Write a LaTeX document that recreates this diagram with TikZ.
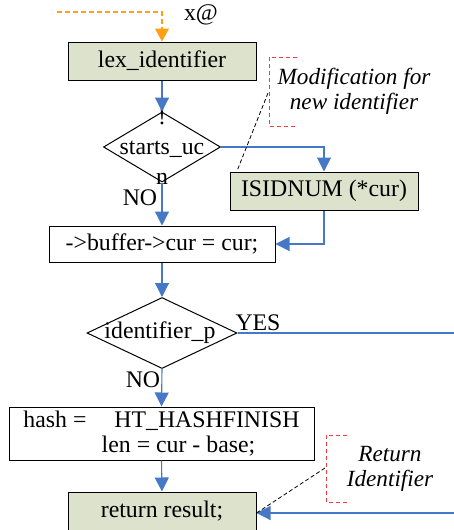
\documentclass[tikz,border=0pt]{standalone}
\usepackage{fontspec}
\setmainfont{Liberation Serif}
\usetikzlibrary{shapes.geometric,arrows.meta}
\definecolor{boxgreen}{RGB}{221,226,204}
\definecolor{flowblue}{RGB}{70,120,200}
\definecolor{inorange}{RGB}{255,160,20}
\definecolor{notered}{RGB}{240,60,60}
\tikzset{
  txt/.style={font=\fontsize{23.8}{30}\selectfont, inner sep=0pt},
  note/.style={font=\fontsize{23.2}{25}\selectfont\itshape, inner sep=0pt, align=center},
  procbox/.style={draw=black, line width=1pt, rectangle, inner sep=0pt,
    font=\fontsize{23.8}{27}\selectfont, align=center},
  greenbox/.style={procbox, fill=boxgreen},
  decision/.style={draw=black, line width=1pt, diamond, inner sep=0pt},
  flow/.style={draw=flowblue, line width=1.1pt, -{Triangle[length=14pt,width=14pt]}},
  flowline/.style={draw=flowblue, line width=1.1pt},
  entry/.style={draw=inorange, line width=1.1pt, dash pattern=on 5pt off 3pt,
    -{Triangle[length=13pt,width=14pt]}},
  bracket/.style={draw=notered, line width=1pt, dash pattern=on 4pt off 3pt},
  pointer/.style={draw=black, line width=0.8pt, dash pattern=on 4pt off 2.5pt}
}
\begin{document}
\begin{tikzpicture}[x=1pt,y=-1pt]
\useasboundingbox (0,0) rectangle (454,530);

% main flow
\node[greenbox, minimum width=188pt, minimum height=38pt] (lex) at (162,61) {lex\_identifier};
\node[decision, minimum width=117pt, minimum height=70pt] (d1) at (162,147) {};
\node[txt, align=center] (d1t) at (162,147) {!\\starts\_uc\\n};
\node[greenbox, minimum width=188pt, minimum height=38pt] (isid) at (324,191) {ISIDNUM (*cur)};
\node[procbox, minimum width=226pt, minimum height=36pt] (buf) at (162,244) {->buffer->cur = cur;};
\node[decision, minimum width=150pt, minimum height=71pt] (d2) at (162,333) {};
\node[txt] (d2t) at (160,333) {identifier\_p};
\node[procbox, minimum width=305pt, minimum height=53pt] (hash) at (161.5,433.5)
  {hash = \hspace{22pt}HT\_HASHFINISH\\[-2pt]\hspace*{34pt}len = cur - base;};
\node[greenbox, minimum width=188pt, minimum height=40pt] (ret) at (162,512) {};
\node[txt] (rett) at (162,511) {return result;};

% entry
\coordinate (in) at (57,12);
\draw[entry] (in) -| (lex.north);
\node[txt] (xat) at (201,15) {x@};

% connectors
\draw[flow] (lex.south) -- (d1.north);
\draw[flow] (d1.east) -| (isid.north);
\draw[flow] (d1.south) -- (buf.north);
\node[txt] (no1) at (140,198) {NO};
\draw[flow] (isid.south) |- (buf.east);
\draw[flow] (buf.south) -- (d2.north);
\coordinate (yesend) at (454,333);
\draw[flowline] (d2.east) -- (yesend);
\node[txt] (yes) at (258,323) {YES};
\draw[flow] (d2.south) -- (hash.north);
\node[txt] (no2) at (143,380) {NO};
\draw[flow] (hash.south) -- (ret.north);
\coordinate (back) at (454,513);
\draw[flow] (back) -- (ret.east |- back);

% annotation: modification
\draw[bracket] (297,57) -- (269,57) -- (269,126) -- (297,126);
\node[note] (mod) at (354,91) {Modification for\\new identifier};
\coordinate (modtip) at (268,93);
\draw[pointer] (modtip) -- (237,171);

% annotation: return identifier
\draw[bracket] (347,435) -- (326,435) -- (326,502) -- (347,502);
\node[note] (retnote) at (390,469) {Return\\Identifier};
\coordinate (rettip) at (325,468);
\draw[pointer] (rettip) -- (ret.east |- back);
\end{tikzpicture}
\end{document}
